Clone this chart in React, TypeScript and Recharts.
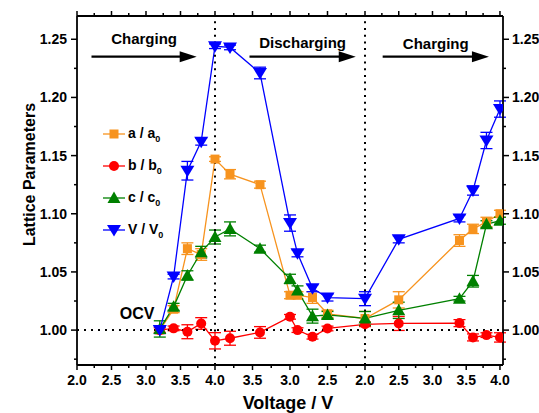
import React from 'react';
import { LineChart, Line, XAxis, YAxis, ErrorBar, ReferenceLine, ReferenceDot, Legend } from 'recharts';

// measurement sequence: charge (OCV -> 4.0 V), discharge to 2.0 V, charge again to 4.0 V
const voltage = [3.2, 3.4, 3.6, 3.8, 4.0, 3.8, 3.4, 3.0, 2.9, 2.7, 2.5, 2.0, 2.5, 3.4, 3.6, 3.8, 4.0];
const stage = ['c1', 'c1', 'c1', 'c1', 'c1', 'd', 'd', 'd', 'd', 'd', 'd', 'd', 'c2', 'c2', 'c2', 'c2', 'c2'];

const aRatio = [1.0, 1.018, 1.07, 1.065, 1.147, 1.134, 1.125, 1.03, 1.03, 1.028, 1.014, 1.01, 1.026, 1.077, 1.087, 1.093, 1.1];
const aErr = [0.002, 0.003, 0.005, 0.005, 0.002, 0.004, 0.003, 0.003, 0.003, 0.005, 0.003, 0.006, 0.007, 0.005, 0.004, 0.004, 0.003];
const bRatio = [1.0, 1.0015, 0.9986, 1.0057, 0.9908, 0.993, 0.998, 1.0114, 1.0, 0.9943, 1.0014, 1.005, 1.0057, 1.006, 0.9937, 0.9957, 0.9937];
const bErr = [0.002, 0.002, 0.006, 0.005, 0.007, 0.006, 0.005, 0.002, 0.002, 0.002, 0.002, 0.002, 0.006, 0.003, 0.003, 0.002, 0.004];
const cRatio = [1.001, 1.02, 1.047, 1.067, 1.08, 1.087, 1.07, 1.044, 1.034, 1.012, 1.013, 1.01, 1.017, 1.027, 1.042, 1.091, 1.094];
const cErr = [0.007, 0.003, 0.004, 0.005, 0.006, 0.006, 0.003, 0.004, 0.004, 0.006, 0.003, 0.006, 0.007, 0.002, 0.005, 0.003, 0.003];
const vRatio = [1.0, 1.046, 1.137, 1.162, 1.244, 1.243, 1.221, 1.092, 1.066, 1.036, 1.028, 1.027, 1.078, 1.096, 1.12, 1.163, 1.19];
const vErr = [0.003, 0.002, 0.008, 0.003, 0.002, 0.002, 0.005, 0.007, 0.003, 0.003, 0.003, 0.006, 0.003, 0.003, 0.004, 0.007, 0.007];

const xTickLabels = ['2.0', '2.5', '3.0', '3.5', '4.0', '3.5', '3.0', '2.5', '2.0', '2.5', '3.0', '3.5', '4.0'];
const xTickStage = ['c1', 'c1', 'c1', 'c1', 'c1', 'd', 'd', 'd', 'd', 'c2', 'c2', 'c2', 'c2'];

const FONT = "Arial, 'Liberation Sans', Helvetica, sans-serif";
const COLORS = { a: '#F7931E', b: '#FF0000', c: '#008000', v: '#0000FF' };

// the three sweeps are drawn with slightly different lengths in the original
const DIS_SCALE = 1.087;
const CH2_SCALE = 0.978;
const X_MAX = 6.174;
const toPos = (v: number, s: string) =>
  s === 'c1' ? v - 2 : s === 'd' ? 2 + (4 - v) * DIS_SCALE : 2 + 2 * DIS_SCALE + (v - 2) * CH2_SCALE;

const data = voltage.map((v, i) => ({
  pos: toPos(v, stage[i]),
  a: aRatio[i], aErr: aErr[i],
  b: bRatio[i], bErr: bErr[i],
  c: cRatio[i], cErr: cErr[i],
  v: vRatio[i], vErr: vErr[i],
}));

const series = [
  { key: 'a', err: 'aErr', label: 'a / a', color: COLORS.a, marker: 'square' },
  { key: 'b', err: 'bErr', label: 'b / b', color: COLORS.b, marker: 'circle' },
  { key: 'c', err: 'cErr', label: 'c / c', color: COLORS.c, marker: 'up' },
  { key: 'v', err: 'vErr', label: 'V / V', color: COLORS.v, marker: 'down' },
];

const arrows = [
  { from: 0.21, to: 1.735, y: 1.235, text: 'Charging', dy: -13 },
  { from: 2.5, to: 4.04, y: 1.235, text: 'Discharging', dy: -9 },
  { from: 4.43, to: 5.97, y: 1.235, text: 'Charging', dy: -8 },
];

const majorX = xTickLabels.map((l, i) => +toPos(parseFloat(l), xTickStage[i]).toFixed(4));
const minorX = majorX.slice(1).map((p, i) => +((p + majorX[i]) / 2).toFixed(4));
const xTicks = [...majorX, ...minorX].sort((a, b) => a - b);
const xLabelAt = (p: number) => {
  const i = majorX.findIndex((m) => Math.abs(m - p) < 1e-3);
  return i < 0 ? null : xTickLabels[i];
};

const yTicks = Array.from({ length: 12 }, (_, i) => +(0.975 + 0.025 * i).toFixed(3));
const isMajorY = (v: number) => Math.round(v * 1000) % 50 === 0;

const tickText = { fontFamily: FONT, fontSize: 14, fontWeight: 700, fill: '#000' };

function Marker({ kind, cx, cy, color }: any) {
  if (kind === 'square') return <rect x={cx - 4.5} y={cy - 4.5} width={9} height={9} fill={color} />;
  if (kind === 'circle') return <circle cx={cx} cy={cy} r={5} fill={color} />;
  if (kind === 'up') return <polygon points={`${cx},${cy - 6.5} ${cx - 6.5},${cy + 5} ${cx + 6.5},${cy + 5}`} fill={color} />;
  return <polygon points={`${cx - 7},${cy - 5} ${cx + 7},${cy - 5} ${cx},${cy + 6.5}`} fill={color} />;
}

const dotFor = (kind: string, color: string) => (p: any) => (
  <Marker key={`${kind}-${p.index}`} kind={kind} cx={p.cx} cy={p.cy} color={color} />
);

const BottomTick = ({ x, y, payload }: any) => {
  const label = xLabelAt(payload.value);
  return (
    <g>
      <line x1={x} x2={x} y1={y} y2={y + (label ? 5 : 3)} stroke="#000" strokeWidth={1.5} />
      {label && (
        <text x={x} y={y + 20} textAnchor="middle" style={tickText}>
          {label}
        </text>
      )}
    </g>
  );
};

const TopTick = ({ x, y, payload }: any) => (
  <line x1={x} x2={x} y1={y} y2={y - (xLabelAt(payload.value) ? 5 : 3)} stroke="#000" strokeWidth={1.5} />
);

const LeftTick = ({ x, y, payload }: any) => {
  const major = isMajorY(payload.value);
  return (
    <g>
      <line x1={x} x2={x - (major ? 6 : 3)} y1={y} y2={y} stroke="#000" strokeWidth={1.5} />
      {major && (
        <text x={x - 10} y={y + 5} textAnchor="end" style={tickText}>
          {payload.value.toFixed(2)}
        </text>
      )}
    </g>
  );
};

const RightTick = ({ x, y, payload }: any) => {
  const major = isMajorY(payload.value);
  return (
    <g>
      <line x1={x} x2={x + (major ? 6 : 3)} y1={y} y2={y} stroke="#000" strokeWidth={1.5} />
      {major && (
        <text x={x + 9} y={y + 5} textAnchor="start" style={tickText}>
          {payload.value.toFixed(2)}
        </text>
      )}
    </g>
  );
};

const arrowShape = (text: string, dy: number) => (p: any) => {
  const { x1, y1, x2, y2 } = p;
  const head = 17;
  return (
    <g>
      <line x1={x1} y1={y1} x2={x2 - head + 1} y2={y2} stroke="#000" strokeWidth={2.2} />
      <polygon points={`${x2},${y2} ${x2 - head},${y2 - 5.5} ${x2 - head},${y2 + 5.5}`} fill="#000" />
      <text x={(x1 + x2) / 2} y={y1 + dy} textAnchor="middle" style={{ fontFamily: FONT, fontSize: 15, fontWeight: 700, fill: '#000' }}>
        {text}
      </text>
    </g>
  );
};

const LegendBox = () => (
  <div style={{ fontFamily: FONT, fontSize: 14, fontWeight: 700, color: '#000' }}>
    {series.map((s) => (
      <div key={s.key} style={{ height: 32, display: 'flex', alignItems: 'center' }}>
        <svg width={22} height={14} style={{ marginRight: 3 }}>
          <line x1={0} x2={22} y1={7} y2={7} stroke={s.color} strokeWidth={1.3} />
          <Marker kind={s.marker} cx={11} cy={7} color={s.color} />
        </svg>
        <span>
          {s.label}
          <sub style={{ fontSize: 9 }}>0</sub>
        </span>
      </div>
    ))}
  </div>
);

export default function App() {
  return (
    <div style={{ position: 'absolute', left: 0, top: 0, width: 539, height: 413, background: '#fff' }}>
      <LineChart width={539} height={413} data={data} margin={{ top: 11, right: 0, bottom: 0, left: 0 }} style={{ fontFamily: FONT }}>
        <XAxis
          type="number"
          dataKey="pos"
          domain={[0, X_MAX]}
          ticks={xTicks}
          interval={0}
          allowDataOverflow
          height={48}
          tickSize={0}
          tickMargin={0}
          tickLine={false}
          tick={<BottomTick />}
          axisLine={{ stroke: '#000', strokeWidth: 1.8 }}
          label={({ viewBox }: any) => (
            <text x={288} y={viewBox.y + 44} textAnchor="middle" style={{ fontFamily: FONT, fontSize: 18, fontWeight: 700, fill: '#000' }}>
              Voltage / V
            </text>
          )}
        />
        <XAxis
          xAxisId="top"
          orientation="top"
          type="number"
          dataKey="pos"
          domain={[0, X_MAX]}
          ticks={xTicks}
          interval={0}
          allowDataOverflow
          height={5}
          tickSize={0}
          tickMargin={0}
          tickLine={false}
          tick={<TopTick />}
          axisLine={{ stroke: '#000', strokeWidth: 1.8 }}
        />
        <YAxis
          type="number"
          domain={[0.97, 1.27]}
          ticks={yTicks}
          interval={0}
          allowDataOverflow
          width={77}
          tickSize={0}
          tickMargin={0}
          tickLine={false}
          tick={<LeftTick />}
          axisLine={{ stroke: '#000', strokeWidth: 1.8 }}
          label={({ viewBox }: any) => {
            const x = viewBox.x + 35;
            const y = viewBox.y + viewBox.height / 2 - 16;
            return (
              <text x={x} y={y} transform={`rotate(-90 ${x} ${y})`} textAnchor="middle" style={{ fontFamily: FONT, fontSize: 16, fontWeight: 700, fill: '#000' }}>
                Lattice Parameters
              </text>
            );
          }}
        />
        <YAxis
          yAxisId="right"
          orientation="right"
          type="number"
          domain={[0.97, 1.27]}
          ticks={yTicks}
          interval={0}
          allowDataOverflow
          width={36}
          tickSize={0}
          tickMargin={0}
          tickLine={false}
          tick={<RightTick />}
          axisLine={{ stroke: '#000', strokeWidth: 1.8 }}
        />

        {series.map((s) => (
          <Line
            key={s.key}
            type="linear"
            dataKey={s.key}
            stroke={s.color}
            strokeWidth={1.3}
            dot={dotFor(s.marker, s.color)}
            activeDot={false}
            legendType="none"
            isAnimationActive={false}
          >
            <ErrorBar dataKey={s.err} width={6} stroke={s.color} strokeWidth={1.3} direction="y" />
          </Line>
        ))}

        <ReferenceLine y={1.0} stroke="#000" strokeWidth={2} strokeDasharray="2 5" />
        <ReferenceLine x={majorX[4]} stroke="#000" strokeWidth={2} strokeDasharray="2 4.7" />
        <ReferenceLine x={majorX[8]} stroke="#000" strokeWidth={2} strokeDasharray="2 4.7" />

        {arrows.map((a, i) => (
          <ReferenceLine
            key={`arrow-${i}`}
            segment={[{ x: a.from, y: a.y }, { x: a.to, y: a.y }]}
            stroke="#000"
            shape={arrowShape(a.text, a.dy)}
          />
        ))}

        <ReferenceDot
          x={0.87}
          y={1.0143}
          r={0}
          shape={(p: any) => (
            <text x={p.cx} y={p.cy + 6} textAnchor="middle" style={{ fontFamily: FONT, fontSize: 16, fontWeight: 700, fill: '#000' }}>
              OCV
            </text>
          )}
        />

        <Legend
          layout="vertical"
          align="center"
          verticalAlign="middle"
          content={() => <LegendBox />}
          wrapperStyle={{ left: 103, top: 118, width: 110 }}
        />
      </LineChart>
    </div>
  );
}
